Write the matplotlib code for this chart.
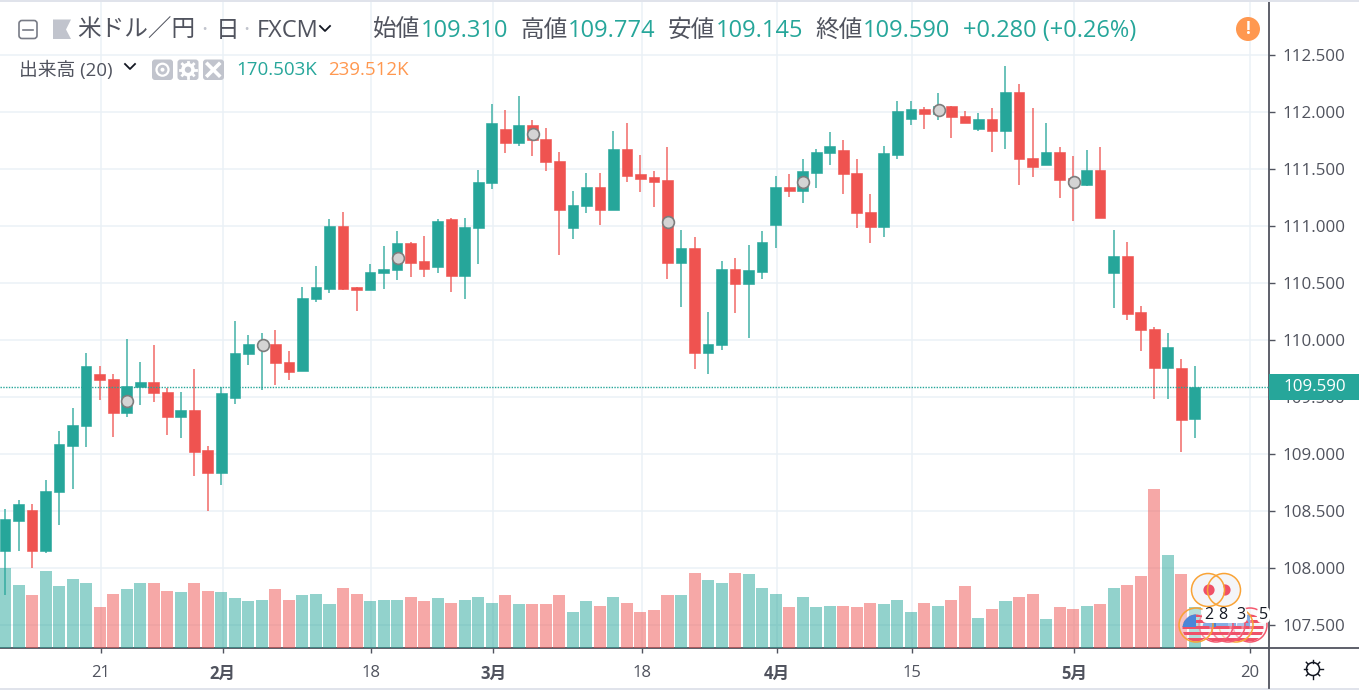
import numpy as np
import matplotlib
matplotlib.use('Agg')
import matplotlib.pyplot as plt
from matplotlib.patches import Circle, FancyBboxPatch, Polygon, Rectangle
from matplotlib.transforms import blended_transform_factory

plt.rcParams['font.family'] = ['Open Sans', 'Noto Sans CJK JP', 'DejaVu Sans']

# daily candles
opens = [108.155, 108.415, 108.51, 108.155, 108.666, 109.073, 109.245, 109.704, 109.663, 109.362,
         109.587, 109.637, 109.546, 109.324, 109.389, 109.035, 108.839, 109.497, 109.877, 109.94,
         109.967, 109.81, 109.731, 110.362, 110.453, 111.005, 110.467, 110.441, 110.587, 110.614,
         110.85, 110.693, 110.64, 111.06, 110.564, 110.982, 111.377, 111.85, 111.734, 111.889,
         111.769, 111.573, 110.982, 111.178, 111.348, 111.14, 111.678, 111.456, 111.43, 111.403,
         110.681, 110.81, 109.891, 109.956, 110.625, 110.497, 110.602, 111.009, 111.348, 111.31,
         111.47, 111.64, 111.666, 111.468, 111.125, 110.997, 111.625, 111.941, 112.032, 111.982,
         112.058, 111.968, 111.851, 111.941, 111.839, 112.178, 111.599, 111.535, 111.652, 111.42,
         111.362, 111.494, 110.587, 110.742, 110.245, 110.099, 109.76, 109.757, 109.31]
highs = [108.52, 108.60, 108.56, 108.775, 109.204, 109.403, 109.889, 109.775, 109.704, 110.008,
         109.81, 109.956, 109.584, 109.546, 109.745, 109.073, 109.587, 110.166, 110.046, 110.061,
         110.087, 109.903, 110.467, 110.652, 111.061, 111.125, 110.467, 110.666, 110.824, 110.956,
         110.862, 110.915, 111.06, 111.073, 111.073, 111.494, 112.073, 112.02, 112.14, 111.93,
         111.862, 111.652, 111.31, 111.468, 111.468, 111.836, 111.903, 111.625, 111.482, 111.693,
         110.968, 110.903, 110.245, 110.693, 110.719, 110.836, 110.956, 111.441, 111.456, 111.587,
         111.678, 111.824, 111.757, 111.587, 111.283, 111.704, 112.099, 112.099, 112.047, 112.166,
         112.058, 112.008, 111.994, 112.035, 112.403, 112.245, 112.035, 111.903, 111.693, 111.614,
         111.666, 111.693, 110.968, 110.862, 110.298, 110.114, 110.061, 109.836, 109.774]
lows = [107.77, 108.155, 108.00, 108.13, 108.377, 108.693, 109.061, 109.479, 109.155, 109.324,
        109.43, 109.456, 109.166, 109.14, 108.813, 108.506, 108.734, 109.444, 109.786, 109.561,
        109.611, 109.652, 109.731, 110.336, 110.415, 110.441, 110.26, 110.441, 110.453, 110.532,
        110.558, 110.558, 110.587, 110.427, 110.365, 110.666, 111.324, 111.64, 111.707, 111.614,
        111.482, 110.745, 110.891, 111.114, 111.009, 111.14, 111.392, 111.298, 111.166, 110.535,
        110.295, 109.745, 109.707, 109.918, 110.242, 110.023, 110.535, 110.812, 111.26, 111.207,
        111.339, 111.535, 111.286, 110.982, 110.85, 110.903, 111.587, 111.891, 111.85, 111.93,
        111.772, 111.903, 111.839, 111.655, 111.681, 111.365, 111.43, 111.535, 111.245, 111.05,
        111.35, 111.076, 110.286, 110.181, 109.903, 109.482, 109.482, 109.023, 109.145]
closes = [108.43, 108.56, 108.155, 108.68, 109.087, 109.257, 109.772, 109.652, 109.362, 109.599,
          109.637, 109.535, 109.324, 109.389, 109.023, 108.839, 109.535, 109.889, 109.967, 109.97,
          109.798, 109.719, 110.374, 110.467, 111.005, 110.453, 110.441, 110.599, 110.625, 110.85,
          110.678, 110.625, 111.05, 110.564, 110.994, 111.389, 111.903, 111.734, 111.889, 111.757,
          111.561, 111.14, 111.19, 111.348, 111.14, 111.678, 111.441, 111.415, 111.389, 110.681,
          110.81, 109.891, 109.968, 110.625, 110.497, 110.614, 110.862, 111.348, 111.31, 111.482,
          111.652, 111.704, 111.456, 111.114, 110.997, 111.64, 112.008, 112.032, 111.982, 112.058,
          111.956, 111.903, 111.941, 111.839, 112.178, 111.587, 111.523, 111.652, 111.403, 111.37,
          111.494, 111.076, 110.742, 110.234, 110.087, 109.76, 109.941, 109.298, 109.59]
# volume in thousands
volumes = [332, 261, 219, 318, 256, 286, 268, 169, 224, 244, 268, 268, 237, 231, 268, 237, 231, 206,
           194, 200, 244, 200, 219, 224, 182, 249, 224, 194, 200, 200, 212, 194, 206, 187, 200, 212,
           187, 219, 182, 182, 182, 219, 150, 194, 175, 212, 187, 150, 157, 219, 219, 311, 281, 268,
           311, 305, 249, 224, 169, 212, 169, 175, 175, 169, 187, 182, 198, 149, 186, 173, 198, 255,
           124, 161, 193, 211, 223, 118, 168, 161, 173, 180, 248, 260, 297, 656, 384, 304, 170.503]

dot_index = [9, 19, 29, 39, 49, 59, 69, 79]
dot_price = [109.467, 109.956, 110.719, 111.81, 111.035, 111.389, 112.02, 111.388]

price_ticks = [107.5, 108.0, 108.5, 109.0, 109.5, 110.0, 110.5, 111.0, 111.5, 112.0, 112.5]
date_ticks = [7.1, 16.1, 27.1, 36.1, 47.1, 57.1, 67.1, 79.1, 92.05]
date_labels = ['21', '2月', '18', '3月', '18', '4月', '15', '5月', '20']

TEAL = '#26a69a'
RED = '#ef5350'
ORANGE = '#ff9850'
TEXT = '#50535e'
GRID = '#ebf1f6'
ICON = '#c1c4cd'

fig = plt.figure(figsize=(13.59, 6.90), dpi=100, facecolor='white')

ax = fig.add_axes([0, 42 / 690, 1269 / 1359, 648 / 690])
ax_vol = ax.twinx()
ax_top = ax.twinx()

x = np.arange(len(closes))
colors = [TEAL if c >= o else RED for o, c in zip(opens, closes)]

# price scale, grid and axis
ylim = (107.301, 112.985)
xlim = (-0.37, 93.49)
for a in (ax, ax_top):
    a.set_xlim(*xlim)
    a.set_ylim(*ylim)
ax.yaxis.tick_right()
ax.set_yticks(price_ticks)
ax.set_yticklabels(['%.3f' % p for p in price_ticks])
ax.set_xticks(date_ticks)
ax.set_xticklabels(date_labels)
for lab, txt in zip(ax.get_xticklabels(), date_labels):
    if '月' in txt:
        lab.set_fontweight('bold')
ax.tick_params(axis='y', length=4.5, width=1, color=TEXT, labelcolor=TEXT, labelsize=12.2, pad=5.5)
ax.tick_params(axis='x', length=3.5, width=1, color=TEXT, labelcolor=TEXT, labelsize=12, pad=8.5)
ax.grid(True, color=GRID, lw=1.1)
ax.set_axisbelow(True)
for s in ('top', 'left'):
    ax.spines[s].set_visible(False)
for s in ('right', 'bottom'):
    ax.spines[s].set_color(TEXT)
    ax.spines[s].set_linewidth(1.3)

# volume pane shares the bottom of the chart
ax_vol.set_ylim(0, 2675)
ax_vol.set_xlim(*xlim)
ax_vol.bar(x, volumes, width=0.89, color=colors, alpha=0.5, linewidth=0)
ax_vol.axis('off')

# candles
ax_top.vlines(x, lows, highs, colors=colors, lw=1.2, alpha=0.8)
ax_top.bar(x, np.abs(np.array(closes) - np.array(opens)),
           bottom=np.minimum(opens, closes), width=0.79, color=colors,
           edgecolor=colors, linewidth=0.4)
ax_top.scatter(np.array(dot_index) + 0.05, dot_price, s=72, facecolor='#d4d4d4',
               edgecolor='#7d7d7d', linewidth=1.2, zorder=5)
ax_top.axhline(closes[-1], color=TEAL, lw=1.0, ls=(0, (1, 1)), zorder=4)
ax_top.axis('off')

# last price tag over the scale
tag_trans = blended_transform_factory(ax_top.transAxes, ax_top.transData)
ax_top.add_patch(Rectangle((1.0, closes[-1] - 0.118), 90 / 1269, 0.236, transform=tag_trans,
                           facecolor=TEAL, edgecolor='none', clip_on=False, zorder=10))
ax_top.text(1283 / 1269, closes[-1], '%.3f' % closes[-1], transform=tag_trans, color='white',
            fontsize=12.2, va='center', ha='left', clip_on=False, zorder=11)

# header and other chrome, in screen pixels
ui = fig.add_axes([0, 0, 1, 1], zorder=10)
ui.set_xlim(0, 1359)
ui.set_ylim(690, 0)
ui.axis('off')
ui.add_patch(Rectangle((0, 0), 1359, 2, facecolor='#e0e3eb', edgecolor='none'))
ui.add_patch(Rectangle((0, 687.5), 1359, 2.5, facecolor='#e0e3eb', edgecolor='none'))
ui.plot([1269, 1269], [648, 687.5], color=TEXT, lw=1.3)
ui.plot([1269, 1359], [648, 648], color=TEXT, lw=1.3)

ui.add_patch(FancyBboxPatch((19, 20.5), 18, 18, boxstyle='round,pad=0,rounding_size=3',
                            facecolor='none', edgecolor='#787b86', lw=1.2))
ui.plot([23, 33], [29.5, 29.5], color='#787b86', lw=1.2)
ui.add_patch(Polygon([(53, 19.5), (71, 19.5), (66, 29.5), (71, 39), (53, 39)], facecolor=ICON,
                     edgecolor='none'))


def label(px, py, s, color=TEXT, size=17, **kw):
    ui.text(px, py, s, color=color, fontsize=size, va='center', ha='left', **kw)


def chevron(cx, cy):
    ui.plot([cx - 5, cx, cx + 5], [cy - 2.5, cy + 2.5, cy - 2.5], color='#131722', lw=1.3)


label(77, 31, '米ドル／円')
label(201, 31, '·', color=ICON)
label(216, 31, '日')
label(243, 31, '·', color=ICON)
label(257, 31, 'FXCM')
chevron(325, 28.5)

ohlc_names = ['始値', '高値', '安値', '終値']
ohlc_vals = ['109.310', '109.774', '109.145', '109.590']
name_x = [373, 520, 668, 815]
for nx, n, v in zip(name_x, ohlc_names, ohlc_vals):
    label(nx, 31, n)
    label(nx + 47.5, 31, v, color=TEAL, )
label(963, 31, '+0.280 (+0.26%)', color=TEAL, )

label(19, 70, '出来高 (20)', size=13.5)
chevron(130, 66.5)
for ix in (152, 177.5, 203):
    ui.add_patch(FancyBboxPatch((ix, 59.5), 21, 20.5, boxstyle='round,pad=0,rounding_size=3',
                                facecolor=ICON, edgecolor='none'))
# eye
ui.add_patch(Circle((162.5, 69.7), 6, facecolor='none', edgecolor='white', lw=1.6))
ui.add_patch(Circle((162.5, 69.7), 2, facecolor='white', edgecolor='none'))
# gear
ui.add_patch(Circle((188, 69.7), 5, facecolor='none', edgecolor='white', lw=2.6))
for ang in np.arange(0, np.pi * 2, np.pi / 4):
    ui.plot([188 + 6 * np.cos(ang), 188 + 8 * np.cos(ang)],
            [69.7 + 6 * np.sin(ang), 69.7 + 8 * np.sin(ang)], color='white', lw=2)
# close
ui.plot([207.5, 219], [64, 75.5], color='white', lw=2.6)
ui.plot([207.5, 219], [75.5, 64], color='white', lw=2.6)
label(236, 70, '170.503K', color=TEAL, size=13.5)
label(328, 70, '239.512K', color=ORANGE, size=13.5)

ui.add_patch(Circle((1248, 29), 12, facecolor=ORANGE, edgecolor='none'))
ui.text(1248, 28.5, '!', color='white', fontsize=12, fontweight='bold', ha='center', va='center')

# settings sun in the corner
ui.add_patch(Circle((1313, 669), 6.5, facecolor='none', edgecolor='#131722', lw=1.1))
for ang in np.arange(0, np.pi * 2, np.pi / 4):
    ui.plot([1313 + 6.5 * np.cos(ang), 1313 + 9.5 * np.cos(ang)],
            [669 + 6.5 * np.sin(ang), 669 + 9.5 * np.sin(ang)], color='#131722', lw=1)


# event badges at the right end
def jp_badge(cx, cy):
    ui.add_patch(Circle((cx, cy), 16, facecolor='#f4f5f8', edgecolor='none', zorder=3))
    ui.add_patch(Circle((cx + 1, cy), 5.6, facecolor='#ef5068', edgecolor='none', zorder=3))


def us_badge(cx, cy, ring, z):
    clip = Circle((cx, cy + 3), 13.5, transform=ui.transData)
    ui.add_patch(Circle((cx, cy), 16, facecolor='#f4f5f8', edgecolor='none', alpha=0.35, zorder=z))
    stripes = [ui.add_patch(Rectangle((cx - 14, cy - 11 + k * 6), 28, 3, facecolor='#ef5068',
                                      edgecolor='none', zorder=z)) for k in range(5)]
    canton = ui.add_patch(Rectangle((cx - 14, cy - 11), 14, 13, facecolor='#4a86d8',
                                    edgecolor='none', zorder=z))
    for p in stripes + [canton]:
        p.set_clip_path(clip)
    ui.add_patch(Circle((cx, cy), 17, facecolor='none', edgecolor=ring, lw=1.1, zorder=z + 0.5))


jp_badge(1224, 590)
jp_badge(1208, 590)
ring_jp = '#f9a336'
ui.add_patch(Circle((1224, 590), 16.5, facecolor='none', edgecolor=ring_jp, lw=1.1, zorder=3.5))
ui.add_patch(Circle((1208, 590), 16.5, facecolor='none', edgecolor=ring_jp, lw=1.1, zorder=3.5))

for z, (cx, ring) in enumerate([(1250, '#f4596e'), (1236, ring_jp), (1228, '#f4596e'),
                                (1216, '#f4596e'), (1196, ring_jp)]):
    us_badge(cx, 625, ring, 4 + z)

ui.add_patch(FancyBboxPatch((1202, 607), 45, 16, boxstyle='round,pad=0,rounding_size=5',
                            facecolor='white', edgecolor='none', zorder=10))
ui.add_patch(FancyBboxPatch((1257, 607), 13, 16, boxstyle='round,pad=0,rounding_size=5',
                            facecolor='white', edgecolor='none', zorder=10))
for tx, s in zip((1209, 1223, 1241, 1264), ('2', '8', '3', '5')):
    ui.text(tx, 615, s, color='#131722', fontsize=11.5, ha='center', va='center', zorder=11)

fig.savefig('out.png', dpi=100)
